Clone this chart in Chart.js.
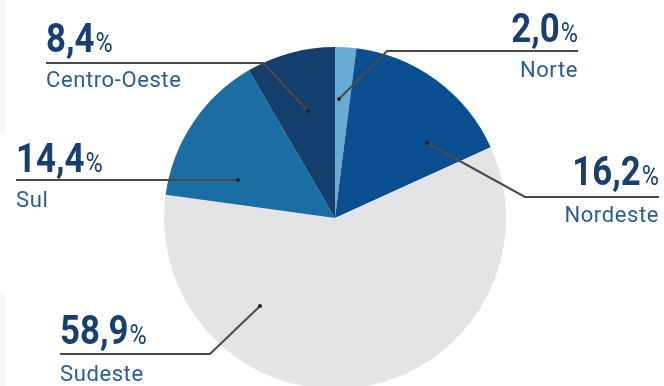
<!DOCTYPE html>
<html>
<head>
<meta charset="utf-8">
<script src="https://cdn.jsdelivr.net/npm/chart.js@4"></script>
<style>
  html, body { margin: 0; padding: 0; background: #fff; overflow: hidden; }
  #wrap { width: 664px; height: 392px; position: relative; }
</style>
</head>
<body>
<div id="wrap"><canvas id="regionChart"></canvas></div>
<script>
// Regional shares, clockwise from the top
const regions = ["Norte", "Nordeste", "Sudeste", "Sul", "Centro-Oeste"];
const shares = [2.0, 16.2, 58.9, 14.4, 8.4];
const sliceColors = ["#68acd3", "#0b4e90", "#e4e4e6", "#1a6ea3", "#143f6d"];

// where each callout sits (layout only)
const callouts = [
  { i: 0, x: 578, align: "right", numY: 42, lineY: 51, bendX: 387, dot: [339, 99], nameY: 77 },
  { i: 1, x: 659, align: "right", numY: 185, lineY: 197, bendX: 525, dot: [427, 143], nameY: 222 },
  { i: 2, x: 60, align: "left", numY: 344, lineY: 354, bendX: 210, dot: [260, 306], nameY: 381 },
  { i: 3, x: 16, align: "left", numY: 172, lineY: 180, bendX: 238, dot: [238, 180], nameY: 207 },
  { i: 4, x: 46, align: "left", numY: 52, lineY: 63, bendX: 263, dot: [308, 111], nameY: 87 }
];

function fmt(v) {
  return v.toFixed(1).replace(".", ",");
}

const calloutPlugin = {
  id: "callouts",
  beforeDraw(chart) {
    const ctx = chart.ctx;
    ctx.save();
    ctx.fillStyle = "#f7f7f7";
    ctx.fillRect(0, 0, 6, 132);
    ctx.fillRect(0, 293, 6, 100);
    ctx.restore();
  },
  afterDraw(chart) {
    const ctx = chart.ctx;
    const sx = 0.87;
    callouts.forEach(c => {
      const num = fmt(shares[c.i]);
      ctx.save();
      // measure number + percent
      ctx.font = "bold 40px Roboto";
      const wNum = ctx.measureText(num).width * sx;
      ctx.font = "27px Roboto";
      const wPct = ctx.measureText("%").width * sx;
      const total = wNum + wPct + 1;
      const left = c.align === "left" ? c.x : c.x - total;

      ctx.fillStyle = "#173f6f";
      ctx.textBaseline = "alphabetic";
      ctx.textAlign = "left";
      ctx.save();
      ctx.translate(left, c.numY);
      ctx.scale(sx, 1);
      ctx.font = "bold 40px Roboto";
      ctx.fillText(num, 0, 0);
      ctx.font = "27px Roboto";
      ctx.fillText("%", (wNum + 1) / sx, 0);
      ctx.restore();

      // region name
      ctx.font = "22px Roboto";
      ctx.letterSpacing = "0.6px";
      ctx.fillStyle = "#2d5c93";
      ctx.textAlign = c.align;
      ctx.fillText(regions[c.i], c.x, c.nameY);
      ctx.letterSpacing = "0px";

      // leader line
      ctx.strokeStyle = "#4a4a4a";
      ctx.lineWidth = 2;
      ctx.beginPath();
      ctx.moveTo(c.x, c.lineY);
      ctx.lineTo(c.bendX, c.lineY);
      ctx.lineTo(c.dot[0], c.dot[1]);
      ctx.stroke();
      ctx.fillStyle = "#222";
      ctx.beginPath();
      ctx.arc(c.dot[0], c.dot[1], 2, 0, Math.PI * 2);
      ctx.fill();
      ctx.restore();
    });
  }
};

new Chart(document.getElementById("regionChart"), {
  type: "pie",
  data: {
    labels: regions,
    datasets: [
      {
        data: shares,
        backgroundColor: sliceColors,
        borderWidth: 0
      }
    ]
  },
  options: {
    responsive: true,
    maintainAspectRatio: false,
    animation: false,
    layout: {
      padding: { left: 6, right: 0, top: 47, bottom: 3 }
    },
    plugins: {
      legend: { display: false },
      tooltip: { enabled: false }
    }
  },
  plugins: [calloutPlugin]
});
</script>
</body>
</html>
